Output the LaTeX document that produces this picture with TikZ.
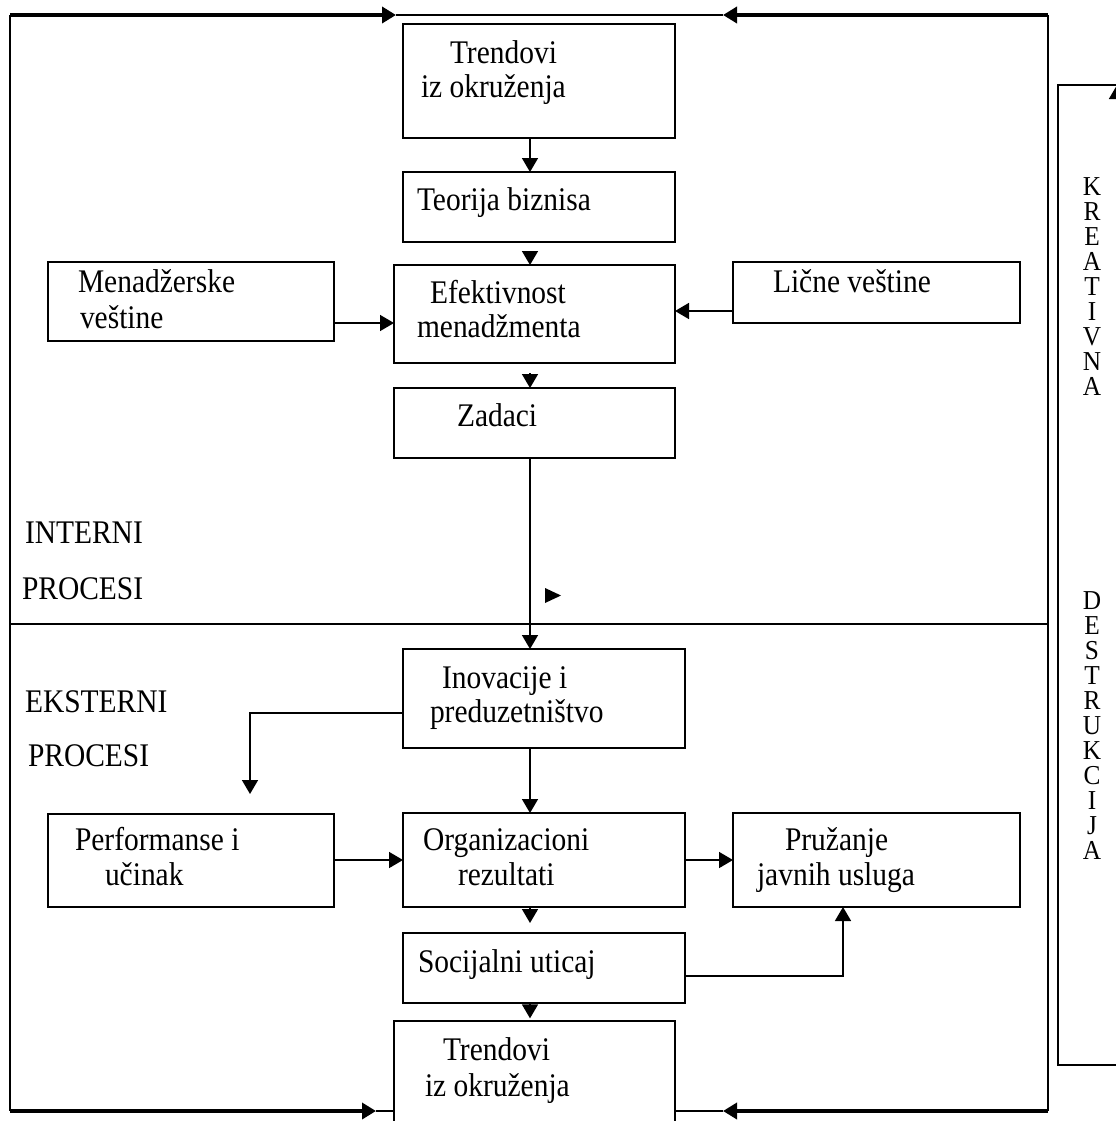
\documentclass[tikz,border=0pt]{standalone}
\usepackage{fontspec}
\setmainfont{Liberation Serif}
\usetikzlibrary{arrows.meta}
% a framed box given by its left, top, right and bottom edges (in px, y down)
\newcommand\mkbox[5]{%
  \node[blk, minimum width={(#4-#2)*0.75pt}, minimum height={(#5-#3)*0.75pt}]
    (#1) at ({(#2+#4)/2},{(#3+#5)/2}) {};}
% slightly tall lettering
\newcommand\tall[1]{\scalebox{1}[1.12]{#1}}
\newcommand\talll[1]{\scalebox{1}[1.08]{#1}}
\begin{document}
\begin{tikzpicture}[x=0.75pt, y=-0.75pt,
  blk/.style={draw, line width=1.2pt, inner sep=0pt, outer sep=0pt},
  lbl/.style={inner sep=0pt, outer sep=0pt, anchor=base west,
              font=\fontsize{22.1pt}{25.5pt}\selectfont},
  ltr/.style={inner sep=0pt, outer sep=0pt, anchor=base,
              font=\fontsize{19pt}{22pt}\selectfont},
  tip/.style={-{Triangle[length=10.5pt,width=12pt]}},
  link/.style={line width=1.2pt, tip},
  heavy/.style={line width=3pt},
  rim/.style={line width=1.8pt},
  mid/.style={line width=1.4pt},
]
\clip (0,0) rectangle (1116,1121);
\fill[white] (0,0) rectangle (1116,1121);

% ---------- boxes ----------
\mkbox{trtop}{403}{24}{675}{138}
\mkbox{teo}{403}{172}{675}{242}
\mkbox{ef}{394}{265}{675}{363}
\mkbox{zad}{394}{388}{675}{458}
\mkbox{men}{48}{262}{334}{341}
\mkbox{lic}{733}{262}{1020}{323}
\mkbox{ino}{403}{649}{685}{748}
\mkbox{perf}{48}{814}{334}{907}
\mkbox{org}{403}{813}{685}{907}
\mkbox{pru}{733}{813}{1020}{907}
\mkbox{soc}{403}{933}{685}{1003}
\mkbox{trbot}{394}{1021}{675}{1160}
\mkbox{kd}{1058}{85}{1160}{1065}

% ---------- box texts ----------
\node[lbl] (l1) at (450,63) {\tall{Trendovi}};
\node[lbl] (l2) at (421,97) {\tall{iz okruženja}};
\node[lbl] (l3) at (417,210) {\tall{Teorija biznisa}};
\node[lbl] (l4) at (78,292) {\tall{Menadžerske}};
\node[lbl] (l5) at (80,328) {\tall{veštine}};
\node[lbl] (l6) at (430,303) {\tall{Efektivnost}};
\node[lbl] (l7) at (417,337) {\tall{menadžmenta}};
\node[lbl] (l8) at (773,292) {\tall{Lične veštine}};
\node[lbl] (l9) at (457,426) {\tall{Zadaci}};
\node[lbl] (l10) at (25,543) {\tall{INTERNI}};
\node[lbl] (l11) at (22,599) {\tall{PROCESI}};
\node[lbl] (l12) at (25,712) {\tall{EKSTERNI}};
\node[lbl] (l13) at (28,766) {\tall{PROCESI}};
\node[lbl] (l14) at (442,688) {\tall{Inovacije i}};
\node[lbl] (l15) at (430,722) {\tall{preduzetništvo}};
\node[lbl] (l16) at (75,850) {\tall{Performanse i}};
\node[lbl] (l17) at (105,885) {\tall{učinak}};
\node[lbl] (l18) at (423,850) {\tall{Organizacioni}};
\node[lbl] (l19) at (458,885) {\tall{rezultati}};
\node[lbl] (l20) at (785,850) {\tall{Pružanje}};
\node[lbl] (l21) at (757,885) {\tall{javnih usluga}};
\node[lbl] (l22) at (418,972) {\tall{Socijalni uticaj}};
\node[lbl] (l23) at (443,1060) {\tall{Trendovi}};
\node[lbl] (l24) at (425,1096) {\tall{iz okruženja}};

% vertical lettering in the right-hand box
\foreach [count=\i] \c/\y in {K/195,R/220,E/245,A/270,T/295,I/320,V/345,N/370,A/395,
    D/609,E/634,S/659,T/684,R/709,U/734,K/759,C/784,I/809,J/834,A/859}
  \node[ltr] (kl\i) at (1092,\y) {\talll{\c}};

% ---------- helper coordinates ----------
\coordinate (cx) at (530,0);
\coordinate (y323) at (0,323);
\coordinate (y311) at (0,311);
\coordinate (y713) at (0,713);
\coordinate (x250) at (250,0);
\coordinate (y860) at (0,860);
\coordinate (y976) at (0,976);
\coordinate (x843) at (843,0);
\coordinate (x1117) at (1117,0);
\coordinate (kdup) at (1117,300);

% ---------- connectors ----------
\draw[link] (trtop.south -| cx) -- (teo.north -| cx);
\draw[link, shorten <=8pt] (teo.south -| cx) -- (ef.north -| cx);
\draw[link, shorten <=7.5pt] (ef.south -| cx) -- (zad.north -| cx);
\draw[link] (men.east |- y323) -- (ef.west |- y323);
\draw[link] (lic.west |- y311) -- (ef.east |- y311);
\draw[link] (zad.south -| cx) -- (ino.north -| cx);
\draw[link, shorten >=15pt] (ino.west |- y713) -| (perf.north -| x250);
\draw[link] (ino.south -| cx) -- (org.north -| cx);
\draw[link] (perf.east |- y860) -- (org.west |- y860);
\draw[link] (org.east |- y860) -- (pru.west |- y860);
\draw[link, shorten >=7.5pt] (org.south -| cx) -- (soc.north -| cx);
\draw[link] (soc.east |- y976) -| (pru.south -| x843);
\draw[link, shorten >=2pt] (soc.south -| cx) -- (trbot.north -| cx);
\draw[link] (kdup) -- (kd.north -| x1117);

% stray arrowhead beside the long connector
\fill (545,588) -- (561,595.5) -- (545,603) -- cycle;

% ---------- outer frame ----------
\coordinate (ftl) at (10,15);
\coordinate (ftr) at (1048,15);
\coordinate (fbl) at (10,1111);
\coordinate (fbr) at (1048,1111);
\coordinate (ta) at (396,15);
\coordinate (tb) at (723,15);
\coordinate (ba) at (376,1111);
\coordinate (bb) at (723,1111);
\coordinate (dl) at (10,624);
\coordinate (dr) at (1048,624);

\draw[rim] (ftl) -- (fbl);
\draw[rim] (ftr) -- (fbr);
\draw[rim] (dl) -- (dr);
\draw[heavy, tip] (ftl) -- (ta);
\draw[mid] (ta) -- (tb);
\draw[heavy, tip] (ftr) -- (tb);
\draw[heavy, tip] (fbl) -- (ba);
\draw[mid] (ba) -- (trbot.west |- ba);
\draw[mid] (trbot.east |- bb) -- (bb);
\draw[heavy, tip] (fbr) -- (bb);
\end{tikzpicture}
\end{document}
